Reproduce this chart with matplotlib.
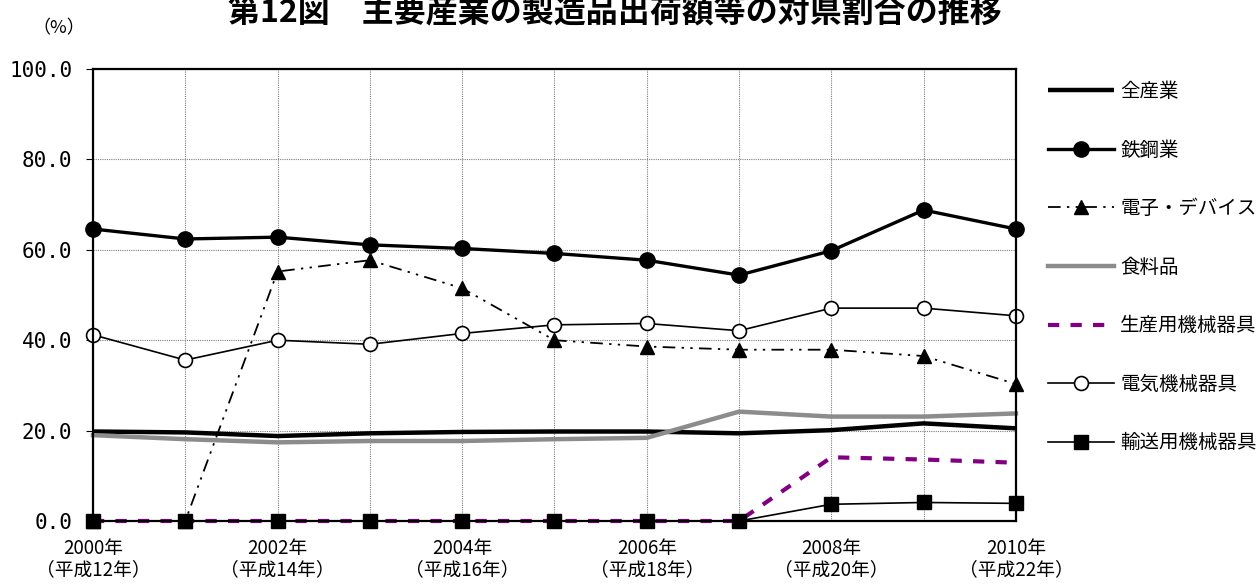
import matplotlib
matplotlib.use("Agg")
import matplotlib.pyplot as plt

plt.rcParams['font.family'] = ['Noto Sans CJK JP', 'DejaVu Sans']

years = [2000, 2001, 2002, 2003, 2004, 2005, 2006, 2007, 2008, 2009, 2010]

all_industry = [19.8, 19.6, 18.8, 19.4, 19.7, 19.8, 19.8, 19.4, 20.1, 21.6, 20.5]
steel = [64.6, 62.4, 62.8, 61.1, 60.3, 59.2, 57.7, 54.4, 59.8, 68.8, 64.6]
electronics = [0.0, 0.0, 55.2, 57.7, 51.5, 40.0, 38.6, 37.9, 37.9, 36.5, 30.3]
food = [19.0, 18.1, 17.4, 17.7, 17.7, 18.1, 18.4, 24.2, 23.1, 23.1, 23.8]
production_machinery = [0.0, 0.0, 0.0, 0.0, 0.0, 0.0, 0.0, 0.0, 14.1, 13.6, 12.9]
electrical_machinery = [41.2, 35.6, 40.0, 39.1, 41.5, 43.4, 43.7, 42.1, 47.1, 47.1, 45.4]
transport_machinery = [0.0, 0.0, 0.0, 0.0, 0.0, 0.0, 0.0, 0.0, 3.7, 4.1, 3.9]

series_labels = ['全産業', '鉄鋼業', '電子・デバイス', '食料品',
                 '生産用機械器具', '電気機械器具', '輸送用機械器具']

xtick_years = [2000, 2002, 2004, 2006, 2008, 2010]
xtick_labels = ['2000年\n（平成12年）', '2002年\n（平成14年）', '2004年\n（平成16年）',
                '2006年\n（平成18年）', '2008年\n（平成20年）', '2010年\n（平成22年）']
ytick_values = [0, 20, 40, 60, 80, 100]
ytick_labels = ['0.0', '20.0', '40.0', '60.0', '80.0', '100.0']

title = '第12図　主要産業の製造品出荷額等の対県割合の推移'

fig = plt.figure(figsize=(12.58, 5.85), dpi=100)
ax = fig.add_axes([0.0739, 0.1094, 0.7337, 0.7726])

ax.plot(years, all_industry, color='black', lw=3.2, solid_capstyle='butt',
        label=series_labels[0])
ax.plot(years, steel, color='black', lw=2.4, marker='o', ms=11,
        label=series_labels[1])
ax.plot(years, electronics, color='black', lw=1.3,
        linestyle=(0, (7, 3.5, 1.3, 3.5, 1.3, 3.5)),
        marker='^', ms=10, label=series_labels[2])
ax.plot(years, food, color='#8c8c8c', lw=3.2, label=series_labels[3])
ax.plot(years, production_machinery, color='#800080', lw=3,
        linestyle=(0, (2.7, 2.7)), label=series_labels[4])
ax.plot(years, electrical_machinery, color='black', lw=1.2, marker='o', ms=10,
        markerfacecolor='white', markeredgewidth=1.2, label=series_labels[5])
ax.plot(years, transport_machinery, color='black', lw=1.2, marker='s', ms=10,
        label=series_labels[6])

ax.set_xlim(2000, 2010)
ax.set_ylim(0, 100)

# gridlines every year, labels every other year
ax.set_xticks(years)
ax.set_xticklabels([xtick_labels[xtick_years.index(y)] if y in xtick_years else ''
                    for y in years], fontsize=13.5, linespacing=1.05)
ax.set_yticks(ytick_values)
ax.set_yticklabels(ytick_labels, fontsize=15, family=['DejaVu Sans Mono'])
ax.tick_params(axis='x', length=0, pad=12)
ax.tick_params(axis='y', length=5, direction='out', pad=10)

ax.grid(True, color='#7f7f7f', linestyle=(0, (1, 1)), lw=0.8)
ax.set_axisbelow(True)
for s in ax.spines.values():
    s.set_linewidth(1.6)
    s.set_color('black')

for artist in ax.lines:
    artist.set_clip_on(False)

leg = ax.legend(loc='upper left', bbox_to_anchor=(1.035, 0.973), frameon=False,
                fontsize=14, handlelength=3.4, handletextpad=0.3,
                labelspacing=1.93, borderaxespad=0, borderpad=0)

fig.text(0.489, 1.004, title, ha='center', va='top', fontsize=23, fontweight='bold')
fig.text(0.026, 0.952, '（%）', ha='left', va='center', fontsize=13)

fig.savefig('out.png', dpi=100)
